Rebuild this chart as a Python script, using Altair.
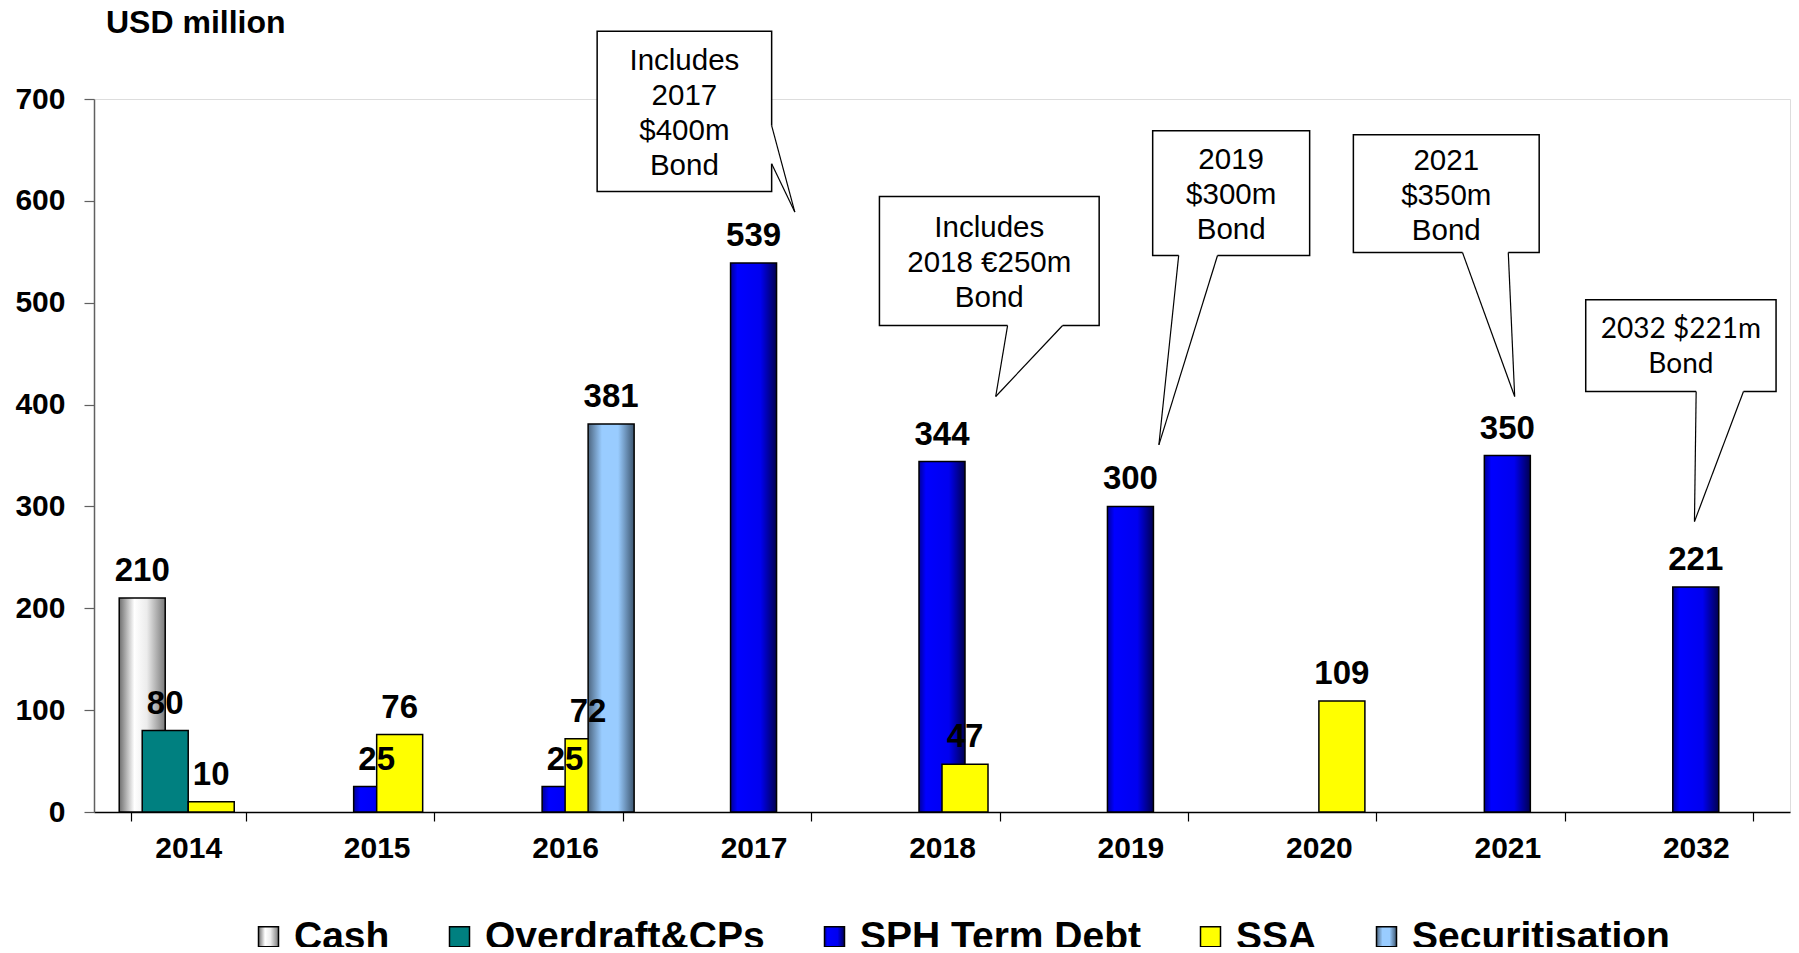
import altair as alt
import pandas as pd

# ---------------- data ----------------
years = ["2014", "2015", "2016", "2017", "2018", "2019", "2020", "2021", "2032"]
series = ["Cash", "Overdraft&CPs", "SPH Term Debt", "SSA", "Securitisation"]
cash = [210, 0, 0, 0, 0, 0, 0, 0, 0]
overdraft = [80, 0, 0, 0, 0, 0, 0, 0, 0]
sph = [0, 25, 25, 539, 344, 300, 0, 350, 221]
ssa = [10, 76, 72, 0, 47, 0, 109, 0, 0]
securitisation = [0, 0, 381, 0, 0, 0, 0, 0, 0]
y_ticks = [0, 100, 200, 300, 400, 500, 600, 700]

rows = []
for name, vals in zip(series, [cash, overdraft, sph, ssa, securitisation]):
    for yr, v in zip(years, vals):
        if v:
            rows.append({"year": yr, "series": name, "value": v})
df = pd.DataFrame(rows)

# callout annotations (x in category-group units from plot left, y in USD million)
callout_text = [
    ["Includes", "2017", "$400m", "Bond"],
    ["Includes", "2018 €250m", "Bond"],
    ["2019", "$300m", "Bond"],
    ["2021", "$350m", "Bond"],
    ["2032 $221m", "Bond"],
]
box_x0 = [2.670, 4.168, 5.618, 6.683, 7.916]
box_x1 = [3.596, 5.334, 6.451, 7.669, 8.926]
box_top = [766.4, 604.3, 668.9, 664.9, 502.9]
box_bot = [609.2, 477.6, 546.4, 549.3, 412.8]
base1 = [(3.596, 673.8), (4.848, 477.6), (5.756, 546.4), (7.262, 549.3), (8.502, 412.8)]
base2 = [(3.596, 636.4), (5.140, 477.6), (5.962, 546.4), (7.505, 549.3), (8.753, 412.8)]
tips = [(3.719, 589.0), (4.785, 407.9), (5.651, 360.5), (7.539, 407.9), (8.493, 285.1)]
callout_font = ["Liberation Sans"] * 4 + ["Lato"]

# ---------------- styles ----------------
FONT = "Liberation Sans"
W, H = 1696, 713
LINE_H = 35                      # px between callout text lines
PX_PER_UNIT = H / 700.0          # y pixels per USD million

boxes = pd.DataFrame({
    "x0": box_x0, "x1": box_x1, "top": box_top, "bot": box_bot,
    "cx": [(a + b) / 2 for a, b in zip(box_x0, box_x1)],
    "ty": [(a + b) / 2 + (len(t) - 1) / 2 * LINE_H / PX_PER_UNIT - 2 / PX_PER_UNIT
           for a, b, t in zip(box_top, box_bot, callout_text)],
    "txt": callout_text, "font": callout_font,
})
covers = pd.DataFrame({
    "x0": [b[0] for b in base1], "y0": [b[1] for b in base1],
    "x1": [b[0] for b in base2], "y1": [b[1] for b in base2],
})
seg_rows = []
for b1, b2, t in zip(base1, base2, tips):
    seg_rows.append({"x0": b1[0], "y0": b1[1], "x1": t[0], "y1": t[1]})
    seg_rows.append({"x0": b2[0], "y0": b2[1], "x1": t[0], "y1": t[1]})
segs = pd.DataFrame(seg_rows)

grad_cash = ("{gradient: 'linear', x1: 0, y1: 0, x2: 1, y2: 0, stops: ["
             "{offset: 0, color: '#6e6e6e'}, {offset: 0.33, color: '#ffffff'},"
             "{offset: 0.6, color: '#ececec'}, {offset: 1, color: '#7a7a7a'}]}")
grad_sph = ("{gradient: 'linear', x1: 0, y1: 0, x2: 1, y2: 0, stops: ["
            "{offset: 0, color: '#00009a'}, {offset: 0.15, color: '#0000ff'},"
            "{offset: 0.65, color: '#0000f0'}, {offset: 1, color: '#000050'}]}")
grad_sec = ("{gradient: 'linear', x1: 0, y1: 0, x2: 1, y2: 0, stops: ["
            "{offset: 0, color: '#4d6680'}, {offset: 0.3, color: '#99ccff'},"
            "{offset: 0.65, color: '#99ccff'}, {offset: 1, color: '#3d5670'}]}")

color_scale = alt.Scale(
    domain=series,
    range=[alt.ExprRef(expr=grad_cash), "#008080", alt.ExprRef(expr=grad_sph),
           "#ffff00", alt.ExprRef(expr=grad_sec)],
)

x_scale = alt.Scale(domain=years, paddingInner=0.3896, paddingOuter=0.1948)
xo_scale = alt.Scale(domain=series, paddingInner=0, paddingOuter=0)
y_scale = alt.Scale(domain=[0, 700], nice=False, zero=True)

x_axis = alt.Axis(title=None, labelAngle=0, labelFont=FONT, labelFontSize=30,
                  labelFontWeight="bold", labelColor="black", labelPadding=12,
                  tickSize=9, tickBand="extent", tickColor="black", tickWidth=1.2,
                  domainColor="black", domainWidth=1.5, grid=False)
y_axis = alt.Axis(title=None, values=y_ticks, grid=False, labelFont=FONT,
                  labelFontSize=30, labelFontWeight="bold", labelColor="black",
                  labelPadding=19, tickSize=10, tickColor="#606060",
                  tickWidth=1.2, domainColor="#606060", domainWidth=1.5)

bars = alt.Chart(df).mark_bar(width=46, stroke="black", strokeWidth=1.5).encode(
    x=alt.X("year:N", scale=x_scale, sort=years, axis=x_axis),
    xOffset=alt.XOffset("series:N", scale=xo_scale, sort=series),
    y=alt.Y("value:Q", scale=y_scale, axis=y_axis),
    color=alt.Color("series:N", scale=color_scale, sort=series,
                    legend=alt.Legend(title=None, orient="none", direction="horizontal",
                                      legendX=155, legendY=818, padding=0,
                                      labelFont=FONT, labelFontSize=39,
                                      labelFontWeight="bold", labelColor="black",
                                      labelLimit=0, labelOffset=6, columnPadding=50,
                                      symbolType="square", symbolSize=400,
                                      symbolStrokeColor="black", symbolStrokeWidth=1.5,
                                      symbolOpacity=1)),
)

labels = alt.Chart(df).mark_text(font=FONT, fontSize=33, fontWeight="bold", color="black",
                                 baseline="alphabetic", dy=-17).encode(
    x=alt.X("year:N", scale=x_scale, sort=years, axis=x_axis),
    xOffset=alt.XOffset("series:N", scale=xo_scale, sort=series),
    y=alt.Y("value:Q", scale=y_scale, axis=y_axis),
    text="value:Q",
)

main = alt.layer(bars, labels)

gx = alt.Scale(domain=[0, 9], nice=False, zero=False)

rects = alt.Chart(boxes).mark_rect(fill="white", stroke="black", strokeWidth=1.5).encode(
    x=alt.X("x0:Q", scale=gx, axis=None), x2="x1:Q",
    y=alt.Y("top:Q", scale=y_scale, axis=y_axis), y2="bot:Q",
)
cover = alt.Chart(covers).mark_rule(color="white", strokeWidth=3).encode(
    x=alt.X("x0:Q", scale=gx, axis=None), x2="x1:Q",
    y=alt.Y("y0:Q", scale=y_scale, axis=y_axis), y2="y1:Q",
)
pointer = alt.Chart(segs).mark_rule(color="black", strokeWidth=1.2).encode(
    x=alt.X("x0:Q", scale=gx, axis=None), x2="x1:Q",
    y=alt.Y("y0:Q", scale=y_scale, axis=y_axis), y2="y1:Q",
)
txt_arial = alt.Chart(boxes).transform_filter(alt.datum.font == "Liberation Sans").mark_text(
    font=FONT, fontSize=29.5, color="black", lineHeight=LINE_H, baseline="middle",
    align="center"
).encode(
    x=alt.X("cx:Q", scale=gx, axis=None),
    y=alt.Y("ty:Q", scale=y_scale, axis=y_axis),
    text="txt",
)
txt_lato = alt.Chart(boxes).transform_filter(alt.datum.font == "Lato").mark_text(
    font="Lato", fontSize=28, color="black", lineHeight=LINE_H, baseline="middle",
    align="center"
).encode(
    x=alt.X("cx:Q", scale=gx, axis=None),
    y=alt.Y("ty:Q", scale=y_scale, axis=y_axis),
    text="txt",
)
title = alt.Chart(pd.DataFrame({"t": ["USD million"]})).mark_text(
    font=FONT, fontSize=32, fontWeight="bold", color="black", align="left",
    baseline="alphabetic"
).encode(x=alt.value(12), y=alt.value(-66), text="t:N")

annot = alt.layer(rects, cover, pointer, txt_arial, txt_lato, title)

chart = alt.layer(main, annot).resolve_scale(x="independent").properties(
    width=W, height=H,
    autosize=alt.AutoSizeParams(type="none"),
    padding={"left": 86, "top": 91, "right": 1, "bottom": 135},
).configure_view(stroke="#606060", strokeWidth=1.5).configure(background="white")

chart.save("out.html", embed_options={"renderer": "svg", "actions": False})
